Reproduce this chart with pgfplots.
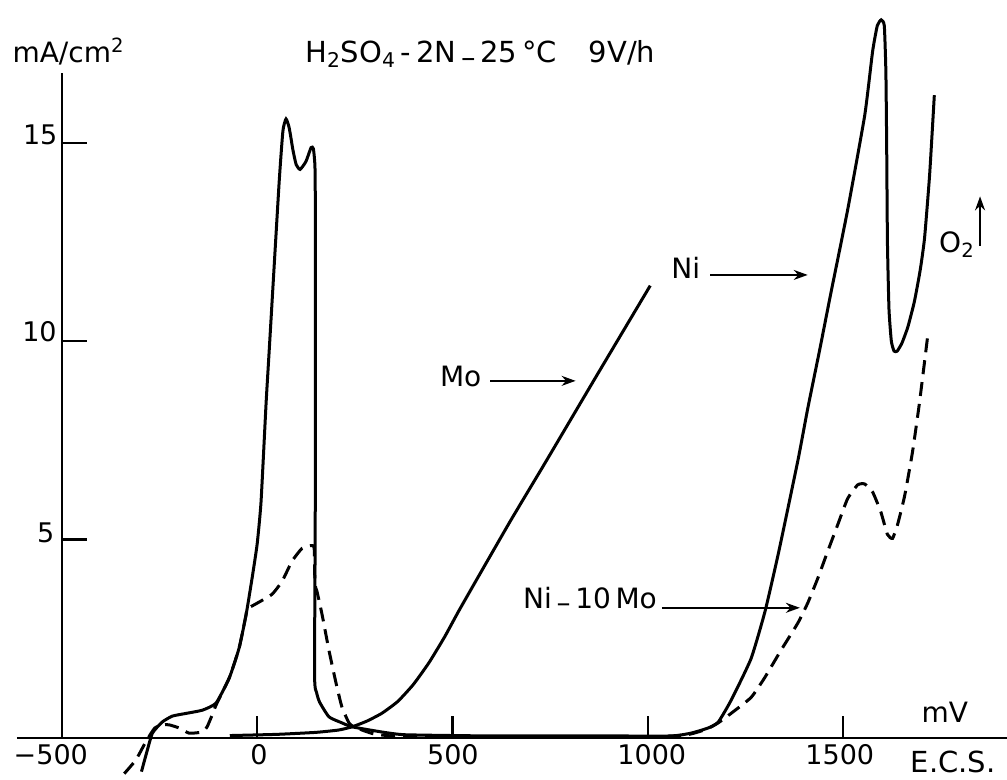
\documentclass[border=0pt]{standalone}
\usepackage{fontspec}
\setmainfont{DejaVu Sans}
\usepackage{pgfplots}
\usepackage{pgfplotstable}
\pgfplotsset{compat=1.18}
\usetikzlibrary{arrows.meta}

% Ni: active peak, passive range, transpassive peak
\pgfplotstableread{
mv ma
-296 -0.85
-283 -0.38
-268 0.12
-243 0.40
-217 0.55
-181 0.62
-140 0.70
-105 0.88
-71 1.52
-46 2.27
-28 3.12
-13 4.02
0 4.88
10 5.95
23 8.45
31 9.78
56 13.95
66 15.30
74 15.60
82 15.38
92 14.80
100 14.45
110 14.33
125 14.53
138 14.88
144 14.85
148 14.40
149 13.10
149 6.45
147 1.60
152 1.15
160 0.90
184 0.53
217 0.38
243 0.28
319 0.15
380 0.08
600 0.05
900 0.05
1059 0.05
1110 0.12
1154 0.25
1180 0.40
1213 0.95
1264 2.00
1300 3.20
1335 4.70
1384 7.00
1409 8.30
1440 9.80
1468 11.20
1511 13.30
1555 15.70
1575 17.30
1587 17.95
1597 18.10
1605 17.95
1609 16.80
1611 15.00
1613 12.50
1617 10.80
1623 10.00
1630 9.75
1638 9.75
1650 9.95
1665 10.35
1682 11.00
1697 11.80
1708 12.60
1721 14.20
1733 16.20
}\nitab

% Mo
\pgfplotstableread{
mv ma
-70 0.06
50 0.09
150 0.14
209 0.20
243 0.28
280 0.42
319 0.62
360 0.92
400 1.35
440 1.90
480 2.55
516 3.20
574 4.20
650 5.50
738 6.95
870 9.15
1006 11.40
}\motab

% Ni-10Mo (dashed)
\pgfplotstableread{
mv ma
-340 -0.90
-310 -0.55
-285 -0.10
-262 0.25
-240 0.33
-225 0.33
-199 0.25
-174 0.12
-140 0.15
-128 0.28
-115 0.58
-105 0.83
-71 1.52
-46 2.27
-28 3.12
-26 3.25
-3 3.38
38 3.62
64 3.95
89 4.45
115 4.78
138 4.85
146 4.78
148 3.88
153 3.70
166 3.12
184 2.20
202 1.38
217 0.78
235 0.38
248 0.28
300 0.10
400 0.03
1000 0.03
1100 0.08
1150 0.22
1180 0.38
1213 0.62
1264 1.02
1299 1.52
1340 2.20
1384 2.90
1409 3.40
1435 4.03
1460 4.70
1486 5.38
1511 6.03
1537 6.38
1555 6.40
1575 6.20
1596 5.70
1613 5.13
1626 5.03
1639 5.38
1657 6.10
1677 7.20
1695 8.45
1716 10.13
}\nimotab

\begin{document}
\begin{tikzpicture}
\begin{axis}[
  scale only axis,
  width=503.5pt, height=390pt,
  xmin=-658, xmax=1919,
  ymin=-1.06, ymax=18.6,
  hide axis,
  clip=false,
]
% axes drawn by hand, as in the original
\draw[line width=1.1pt] (axis cs:-615,0) -- (axis cs:1919,0);
\draw[line width=1.1pt] (axis cs:-500,0) -- (axis cs:-500,16.75);
\draw[line width=1.1pt] (axis cs:-500,5) -- (axis cs:-436,5);
\draw[line width=1.1pt] (axis cs:-500,10) -- (axis cs:-436,10);
\draw[line width=1.1pt] (axis cs:-500,15) -- (axis cs:-436,15);
\draw[line width=1.1pt] (axis cs:0,0) -- (axis cs:0,0.55);
\draw[line width=1.1pt] (axis cs:500,0) -- (axis cs:500,0.55);
\draw[line width=1.1pt] (axis cs:1000,0) -- (axis cs:1000,0.55);
\draw[line width=1.1pt] (axis cs:1500,0) -- (axis cs:1500,0.55);

\addplot[line width=1.5pt, smooth, tension=0.3] table {\nitab};
\addplot[line width=1.5pt, smooth, tension=0.3] table {\motab};
\addplot[line width=1.5pt, smooth, tension=0.3, dash pattern=on 7pt off 4pt] table {\nimotab};

% tick labels
\node[font=\fontsize{13.5}{15}\selectfont, anchor=base] at (axis cs:-528,-0.68) {−500};
\node[font=\fontsize{13.5}{15}\selectfont, anchor=base] at (axis cs:5,-0.68) {0};
\node[font=\fontsize{13.5}{15}\selectfont, anchor=base] at (axis cs:501,-0.68) {500};
\node[font=\fontsize{13.5}{15}\selectfont, anchor=base] at (axis cs:1010,-0.68) {1000};
\node[font=\fontsize{13.5}{15}\selectfont, anchor=base] at (axis cs:1491,-0.68) {1500};
\node[font=\fontsize{13.5}{15}\selectfont, anchor=base east, inner sep=0pt] at (axis cs:-510,14.95) {15};
\node[font=\fontsize{13.5}{15}\selectfont, anchor=base east, inner sep=0pt] at (axis cs:-512,9.98) {10};
\node[font=\fontsize{13.5}{15}\selectfont, anchor=base east, inner sep=0pt] at (axis cs:-518,4.92) {5};

% units and title
\node[font=\fontsize{14}{16}\selectfont, anchor=base west, inner sep=0pt] at (axis cs:-627,17.02) {mA/cm\textsuperscript{2}};
\node[font=\fontsize{14.5}{16}\selectfont, anchor=base west, inner sep=0pt] at (axis cs:122,17.02)
  {H\textsubscript{2}SO\textsubscript{4}\,-\,2N\,\raisebox{-0.3ex}{–}\,25\,°C\hspace{1.1em}9V/h};
\node[font=\fontsize{14}{16}\selectfont, anchor=base] at (axis cs:1760,0.38) {mV};
\node[font=\fontsize{14.5}{16}\selectfont, anchor=base west, inner sep=0pt] at (axis cs:1672,-0.88) {E.C.S.};

% curve labels
\node[font=\fontsize{14}{16}\selectfont] at (axis cs:521,9.1) {Mo};
\draw[line width=1pt, -{Stealth[length=7pt,width=5pt]}] (axis cs:597,9.0) -- (axis cs:815,9.0);
\node[font=\fontsize{14}{16}\selectfont] at (axis cs:1097,11.85) {Ni};
\draw[line width=1pt, -{Stealth[length=7pt,width=5pt]}] (axis cs:1159,11.67) -- (axis cs:1409,11.67);
\node[font=\fontsize{14}{16}\selectfont] at (axis cs:852,3.48) {Ni\,\raisebox{-0.3ex}{–}\,10\,Mo};
\draw[line width=1pt, -{Stealth[length=7pt,width=5pt]}] (axis cs:1036,3.28) -- (axis cs:1389,3.28);
\node[font=\fontsize{14}{16}\selectfont] at (axis cs:1791,12.43) {O\textsubscript{2}};
\draw[line width=1pt, -{Stealth[length=7pt,width=5pt]}] (axis cs:1850,12.4) -- (axis cs:1850,13.65);
\end{axis}
\pgfresetboundingbox
\path[use as bounding box] (current axis.south west) rectangle (current axis.north east);
\end{tikzpicture}
\end{document}
